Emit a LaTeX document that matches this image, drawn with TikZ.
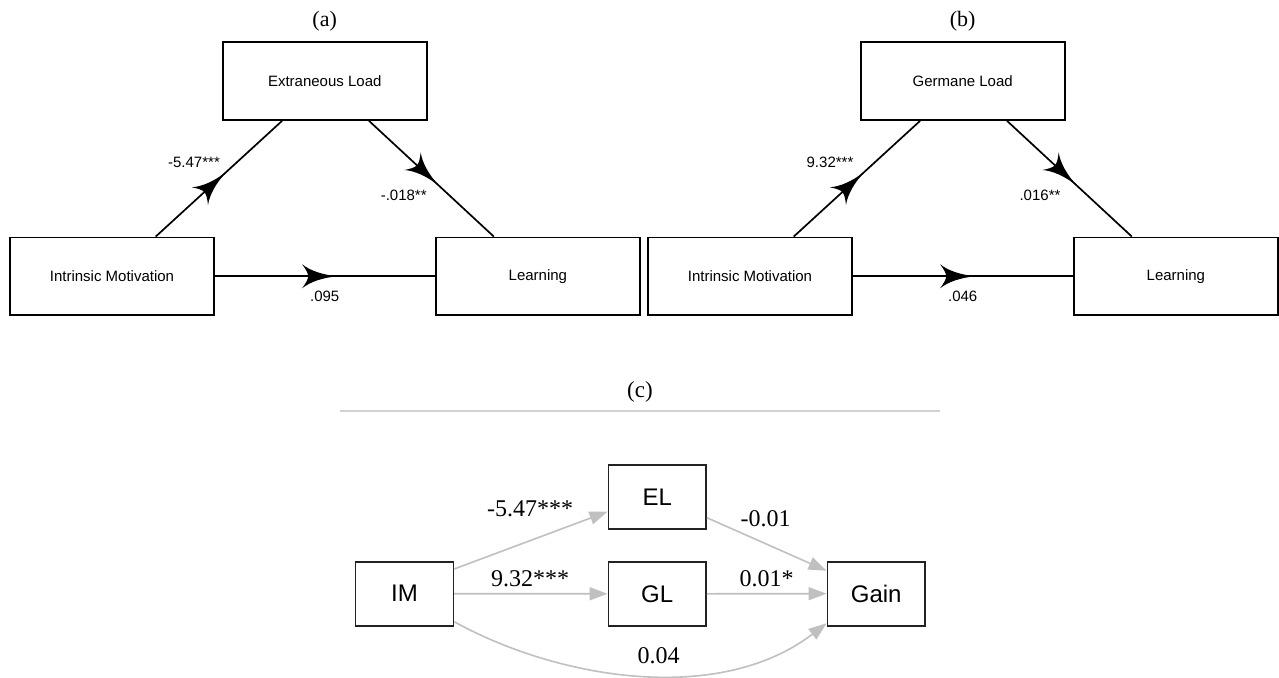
\documentclass[tikz,border=0pt]{standalone}
\usepackage{fontspec}
\setmainfont{Liberation Serif}
\setsansfont{Liberation Sans}
\usetikzlibrary{arrows.meta,decorations.markings}
\definecolor{edgegray}{HTML}{C0C0C0}
\definecolor{rulegray}{HTML}{D3D3D3}
\definecolor{boxdark}{HTML}{222222}
\tikzset{
  panelbox/.style={draw=black, line width=1.8pt, fill=white, minimum width=204pt, minimum height=77.5pt, inner sep=0pt, font=\fontsize{15}{18}\selectfont\sffamily},
  coefA/.style={font=\fontsize{15}{18}\selectfont\sffamily, inner sep=0pt},
  paneltitle/.style={font=\fontsize{22}{26}\selectfont\rmfamily, inner sep=0pt},
  midarrow/.style={postaction={decorate}, decoration={markings, mark=at position 0.56 with {
      \fill[black] (0,0) .. controls (-15,1.2) and (-28,5.5) .. (-36,12)
        .. controls (-32,6.5) and (-30,3) .. (-30,0)
        .. controls (-30,-3) and (-32,-6.5) .. (-36,-12)
        .. controls (-28,-5.5) and (-15,-1.2) .. (0,0) -- cycle;}}},
  pathline/.style={draw=black, line width=1.7pt, midarrow},
  cbox/.style={draw=boxdark, line width=1.6pt, fill=white, minimum width=97.7pt, minimum height=64pt, inner sep=0pt, font=\fontsize{24}{28}\selectfont\sffamily},
  cedge/.style={draw=edgegray, line width=1.6pt, -{Triangle[length=18pt,width=13pt]}},
  coefC/.style={font=\fontsize{24}{28}\selectfont\rmfamily, inner sep=0pt, anchor=base},
}
\begin{document}
\begin{tikzpicture}[x=1pt, y=-1pt]
\useasboundingbox[fill=white] (0,0) rectangle (1279,677);

% ---------- panel (a)
\node[paneltitle] (ta) at (324.7,21.7) {(a)};
\node[panelbox, minimum height=78pt] (ela) at (324.75,81) {Extraneous Load};
\node[panelbox] (ima) at (112,276.25) {Intrinsic Motivation};
\node[panelbox] (lea) at (537.85,276.25) {Learning};
\draw[pathline] ([xshift=43.7pt]ima.north) -- ([xshift=-42.7pt]ela.south);
\draw[pathline] ([xshift=44.3pt]ela.south) -- ([xshift=-44pt]lea.north);
\draw[pathline] (ima.east) -- (lea.west);
\node[coefA] (a1) at (194,162) {-5.47***};
\node[coefA] (a2) at (403.7,195) {-.018**};
\node[coefA] (a3) at (324.7,296) {.095};

% ---------- panel (b)
\node[paneltitle] (tb) at (962.7,21.7) {(b)};
\node[panelbox, minimum height=78pt] (glb) at (962.75,81) {Germane Load};
\node[panelbox] (imb) at (750,276.25) {Intrinsic Motivation};
\node[panelbox] (leb) at (1175.85,276.25) {Learning};
\draw[pathline] ([xshift=43.7pt]imb.north) -- ([xshift=-42.7pt]glb.south);
\draw[pathline] ([xshift=44.3pt]glb.south) -- ([xshift=-44pt]leb.north);
\draw[pathline] (imb.east) -- (leb.west);
\node[coefA] (b1) at (830,162) {9.32***};
\node[coefA] (b2) at (1040,195) {.016**};
\node[coefA] (b3) at (962.7,296) {.046};

% ---------- panel (c)
\node[paneltitle, font=\fontsize{23}{27}\selectfont\rmfamily] (tc) at (640,392) {(c)};
\draw[draw=rulegray, line width=1.5pt] (340,411) -- (940,411);
\node[cbox] (imc) at (404.5,593.7) {IM};
\node[cbox] (elc) at (657.2,497) {EL};
\node[cbox] (glc) at (657.2,593.8) {GL};
\node[cbox] (gain) at (876.2,593.7) {Gain};
\draw[cedge] ([yshift=24.7pt]imc.east) -- ([yshift=-14.7pt]elc.west);
\draw[cedge] (imc.east) -- (glc.west);
\draw[cedge] ([yshift=-20.7pt]elc.east) -- ([yshift=23pt]gain.west);
\draw[cedge] (glc.east) -- (gain.west);
\draw[cedge] ([yshift=-28pt]imc.east) .. controls +(105,58) and +(-107,82) .. ([yshift=-29.6pt]gain.west);
\node[coefC] (c1) at (530,516.7) {-5.47***};
\node[coefC] (c2) at (530,586.7) {9.32***};
\node[coefC] (c3) at (765.7,526) {-0.01};
\node[coefC] (c4) at (766.7,586.7) {0.01*};
\node[coefC] (c5) at (658.7,663.3) {0.04};
\end{tikzpicture}
\end{document}
